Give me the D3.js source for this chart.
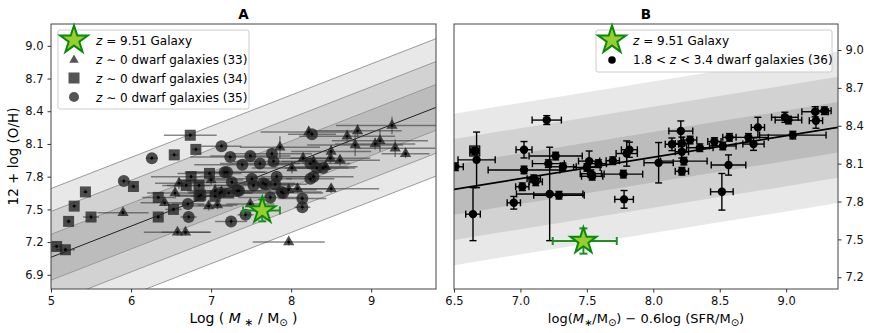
<!DOCTYPE html>
<html>
<head>
<meta charset="utf-8">
<script src="https://cdn.jsdelivr.net/npm/d3@7/dist/d3.min.js"></script>
<style>
  body { margin:0; background:#fff; }
  text { font-family: "DejaVu Sans", sans-serif; }
</style>
</head>
<body>
<div id="chart"></div>
<script>
// Mass-metallicity (A) and FMR (B) panels

// ---- panel A data: [logM, 12+log(O/H), xerr, yerr]
const triA = [
  [5.90,7.47,0.32,0.03],[6.58,7.29,0.42,0.03],[6.68,7.29,0.30,0.03],
  [6.42,7.56,0.30,0.03],[6.55,7.65,0.35,0.05],[6.60,7.74,0.30,0.05],
  [6.97,7.53,0.30,0.04],[7.08,7.54,0.25,0.04],[7.00,7.77,0.40,0.05],[7.05,7.67,0.35,0.06],[7.13,7.66,0.40,0.06],
  [7.49,7.55,0.30,0.03],[7.86,8.07,0.50,0.10],[7.97,7.68,0.35,0.04],[8.08,7.69,0.40,0.04],[8.01,7.88,0.50,0.05],
  [8.22,8.21,0.60,0.05],[8.70,8.17,0.60,0.06],[8.83,8.22,0.55,0.06],[9.26,8.27,0.70,0.08],[9.11,8.13,0.60,0.10],
  [9.05,8.10,0.50,0.05],[8.80,8.09,0.60,0.10],[9.30,8.06,0.50,0.08],[9.43,8.01,0.30,0.04],[8.50,8.03,0.50,0.06],
  [8.15,7.97,0.40,0.05],[8.49,7.97,0.50,0.05],[8.61,7.95,0.50,0.05],[8.28,7.94,0.40,0.05],[8.50,7.69,0.60,0.04],
  [7.97,7.20,0.45,0.03],[8.43,7.89,0.40,0.04]
];
const sqA = [
  [5.07,7.16,0.05,0.02],[5.18,7.13,0.12,0.02],[5.22,7.39,0.03,0.02],[5.29,7.53,0.03,0.02],[5.43,7.66,0.03,0.02],
  [5.50,7.43,0.10,0.02],[6.03,7.71,0.05,0.02],[6.34,7.43,0.05,0.02],[6.34,7.61,0.20,0.02],[6.53,7.50,0.10,0.02],
  [6.54,8.00,0.05,0.02],[6.74,8.18,0.33,0.02],[6.81,8.05,0.05,0.02],[6.69,7.72,0.30,0.02],[6.75,7.80,0.50,0.02],
  [6.85,7.72,0.40,0.02],[6.85,7.62,0.30,0.02],[6.98,7.83,0.40,0.02],[7.05,7.62,0.30,0.02],[7.22,7.65,0.30,0.02],
  [6.87,7.63,0.30,0.02]
];
const circA = [
  [5.91,7.76,0.05,0.02],[6.26,7.97,0.07,0.02],[6.71,7.55,0.20,0.02],[6.72,7.43,0.10,0.02],[7.13,8.08,0.25,0.02],
  [7.24,7.98,0.50,0.03],[7.49,7.99,0.50,0.03],[7.76,8.01,0.50,0.03],[7.39,7.91,0.60,0.03],[7.61,7.92,0.50,0.03],
  [7.78,7.94,0.50,0.03],[8.26,8.19,0.30,0.03],[7.17,7.84,0.50,0.03],[7.26,7.75,0.50,0.03],[7.51,7.78,0.50,0.03],
  [7.65,7.74,0.40,0.03],[7.35,7.67,0.40,0.03],[7.82,7.80,0.40,0.03],[7.80,7.73,0.40,0.03],[7.68,7.73,0.40,0.03],
  [7.53,7.72,0.50,0.03],[7.33,7.67,0.30,0.03],[7.11,7.65,0.40,0.03],[7.20,7.84,0.50,0.03],[7.25,7.39,0.20,0.03],
  [7.43,7.45,0.10,0.03],[7.90,7.65,0.50,0.03],[8.14,7.60,0.30,0.03],[8.14,7.52,0.10,0.03],[8.24,7.78,0.30,0.03],
  [8.28,7.80,0.50,0.03],[8.32,7.88,0.40,0.03],[8.40,7.88,0.40,0.03],[8.24,7.92,0.50,0.03],[7.74,7.61,0.40,0.03],
  [7.88,7.66,0.50,0.03]
];
// z=9.51 galaxy: [x, y, xerrLow, xerrHigh, yerr]
const starA = [7.64, 7.49, 0.24, 0.22, 0.10];
const fitA = {x0:5, y0:7.061, slope:0.2857};
const bandOffsetsA = [0.63, 0.42, 0.21];

// ---- panel B data: [x, 12+log(O/H), xerr, yerr]
const ptsB = [
  [6.51,8.075,0.06,0.03],[6.67,8.13,0.14,0.22],[6.656,8.20,0.03,0.03],[6.643,7.70,0.055,0.21],[6.95,7.79,0.05,0.05],
  [7.027,8.21,0.06,0.065],[7.027,8.05,0.27,0.03],[7.014,7.917,0.05,0.03],[7.10,7.98,0.05,0.03],
  [7.115,7.956,0.05,0.03],[7.198,8.445,0.11,0.035],[7.22,7.86,0.25,0.37],[7.29,7.85,0.19,0.03],
  [7.265,8.16,0.20,0.03],[7.21,8.10,0.12,0.03],[7.32,8.075,0.10,0.03],[7.517,8.12,0.08,0.08],
  [7.50,8.07,0.10,0.03],[7.53,8.02,0.08,0.03],[7.587,8.10,0.06,0.03],[7.695,8.123,0.05,0.03],
  [7.80,8.18,0.08,0.10],[7.82,8.21,0.06,0.06],[7.775,8.017,0.145,0.03],[7.78,7.817,0.07,0.07],
  [8.04,8.107,0.11,0.16],[8.207,8.358,0.09,0.08],[8.14,8.253,0.05,0.05],[8.215,8.26,0.05,0.05],
  [8.277,8.287,0.05,0.03],[8.35,8.226,0.10,0.03],[8.46,8.275,0.05,0.03],[8.215,8.194,0.05,0.05],
  [8.23,8.12,0.175,0.03],[8.215,8.04,0.05,0.03],[8.516,7.877,0.085,0.145],[8.566,8.089,0.13,0.08],
  [8.523,8.24,0.10,0.03],[8.573,8.308,0.05,0.03],[8.716,8.308,0.15,0.03],[8.754,8.255,0.08,0.05],
  [8.787,8.387,0.05,0.08],[8.99,8.467,0.10,0.04],[9.017,8.445,0.10,0.03],[9.05,8.326,0.25,0.03],
  [9.218,8.511,0.10,0.04],[9.288,8.519,0.05,0.03],[9.224,8.44,0.05,0.06],[7.54,8.0,0.08,0.03]
];
const openSqB = [[6.656,8.20]];
const starB = [7.474, 7.487, 0.231, 0.251, 0.10];
const fitB = {x0:6.5, y0:7.896, slope:0.17};
const bandOffsetsB = [0.6, 0.4, 0.2];

const ticksAx = [5,6,7,8,9];
const ticksAy = [6.9,7.2,7.5,7.8,8.1,8.4,8.7,9.0];
const ticksBx = [6.5,7.0,7.5,8.0,8.5,9.0];
const ticksBy = [7.2,7.5,7.8,8.1,8.4,8.7,9.0];
const bandFills = ['#e8e8e8','#d2d2d2','#bcbcbc'];

const W = 872, H = 333;
const svg = d3.select('#chart').append('svg').attr('width',W).attr('height',H);

function panel(id, box, xd, yd){
  const x = d3.scaleLinear().domain(xd).range([box.x0, box.x1]);
  const y = d3.scaleLinear().domain(yd).range([box.y1, box.y0]);
  svg.append('clipPath').attr('id','clip'+id).append('rect')
    .attr('x',box.x0).attr('y',box.y0).attr('width',box.x1-box.x0).attr('height',box.y1-box.y0);
  const g = svg.append('g').attr('clip-path',`url(#clip${id})`);
  return {x, y, g};
}

function bands(p, fit, offs, xd, edgeLines){
  const f = v => fit.y0 + fit.slope*(v - fit.x0);
  const xs = [xd[0]-1, xd[1]+1];
  offs.forEach((o,i)=>{
    const pts = [[xs[0],f(xs[0])+o],[xs[1],f(xs[1])+o],[xs[1],f(xs[1])-o],[xs[0],f(xs[0])-o]];
    p.g.append('path').attr('d', d3.line().x(d=>p.x(d[0])).y(d=>p.y(d[1]))(pts)+'Z')
      .attr('fill', bandFills[i]);
  });
  if (edgeLines){
    offs.forEach(o=>{
      [o,-o].forEach(s=>{
        p.g.append('line').attr('x1',p.x(xs[0])).attr('y1',p.y(f(xs[0])+s))
          .attr('x2',p.x(xs[1])).attr('y2',p.y(f(xs[1])+s))
          .attr('stroke','#9a9a9a').attr('stroke-width',1);
      });
    });
  }
  return f;
}

function errbar(g, x, y, d, color, w, cap){
  const [cx, cy] = [x(d[0]), y(d[1])];
  const xl = d[2], xh = d.length>4 ? d[3] : d[2];
  const ye = d.length>4 ? d[4] : d[3];
  const ln = (x1,y1,x2,y2)=>g.append('line').attr('x1',x1).attr('y1',y1).attr('x2',x2).attr('y2',y2)
    .attr('stroke',color).attr('stroke-width',w);
  ln(x(d[0]-xl), cy, x(d[0]+xh), cy);
  ln(cx, y(d[1]-ye), cx, y(d[1]+ye));
  if (cap){
    ln(x(d[0]-xl), cy-cap, x(d[0]-xl), cy+cap);
    ln(x(d[0]+xh), cy-cap, x(d[0]+xh), cy+cap);
    ln(cx-cap, y(d[1]-ye), cx+cap, y(d[1]-ye));
    ln(cx-cap, y(d[1]+ye), cx+cap, y(d[1]+ye));
  }
}

const starPath = d3.symbol().type(d3.symbolStar).size(210)();

function star(g, x, y, d){
  errbar(g, x, y, d, '#1f8f1f', 2, 4);
  g.append('path').attr('d', starPath).attr('transform',`translate(${x(d[0])},${y(d[1])})`)
    .attr('fill','#9acd32').attr('stroke','#0a8a0a').attr('stroke-width',2);
}

function frame(box){
  svg.append('rect').attr('x',box.x0).attr('y',box.y0).attr('width',box.x1-box.x0).attr('height',box.y1-box.y0)
    .attr('fill','none').attr('stroke','#444').attr('stroke-width',1);
}

function styleAxis(sel){
  sel.select('.domain').remove();
  sel.selectAll('.tick line').attr('stroke','#333');
  sel.selectAll('.tick text').attr('font-size',11.5).attr('fill','#111').attr('font-family','DejaVu Sans');
}

// ---------------- Panel A ----------------
const boxA = {x0:51, x1:436, y0:24, y1:289};
const xdA = [5, 9.81], ydA = [6.77, 9.2];
const pA = panel('A', boxA, xdA, ydA);
const fA = bands(pA, fitA, bandOffsetsA, xdA, true);
pA.g.append('line').attr('x1',pA.x(xdA[0])).attr('y1',pA.y(fA(xdA[0])))
  .attr('x2',pA.x(xdA[1])).attr('y2',pA.y(fA(xdA[1])))
  .attr('stroke','#222').attr('stroke-width',1);

const allA = [...triA, ...sqA, ...circA];
allA.forEach(d=>errbar(pA.g, pA.x, pA.y, d, 'rgba(60,60,60,0.6)', 1.5, 0));
const mk = {opacity:0.78, fill:'#222'};
pA.g.selectAll('.tri').data(triA).enter().append('path')
  .attr('d', d3.symbol().type(d3.symbolTriangle).size(55)())
  .attr('transform', d=>`translate(${pA.x(d[0])},${pA.y(d[1])})`)
  .attr('fill',mk.fill).attr('opacity',mk.opacity);
pA.g.selectAll('.sq').data(sqA).enter().append('rect')
  .attr('x', d=>pA.x(d[0])-5.5).attr('y', d=>pA.y(d[1])-5.5).attr('width',11).attr('height',11)
  .attr('fill',mk.fill).attr('opacity',mk.opacity);
pA.g.selectAll('.ci').data(circA).enter().append('circle')
  .attr('cx', d=>pA.x(d[0])).attr('cy', d=>pA.y(d[1])).attr('r',6)
  .attr('fill',mk.fill).attr('opacity',mk.opacity);
pA.g.selectAll('.dot').data(allA).enter().append('circle')
  .attr('cx', d=>pA.x(d[0])).attr('cy', d=>pA.y(d[1])).attr('r',1.4).attr('fill','#000');
star(pA.g, pA.x, pA.y, starA);
frame(boxA);

svg.append('g').attr('transform',`translate(0,${boxA.y1})`)
  .call(d3.axisBottom(pA.x).tickValues(ticksAx).tickFormat(d3.format('d')).tickSize(3.5).tickPadding(4)).call(styleAxis);
svg.append('g').attr('transform',`translate(${boxA.x0},0)`)
  .call(d3.axisLeft(pA.y).tickValues(ticksAy).tickFormat(d3.format('.1f')).tickSize(3.5).tickPadding(4)).call(styleAxis);

// ---------------- Panel B ----------------
const boxB = {x0:454, x1:838, y0:24, y1:289};
const xdB = [6.5, 9.39], ydB = [7.107, 9.206];
const pB = panel('B', boxB, xdB, ydB);
const fB = bands(pB, fitB, bandOffsetsB, xdB, false);
pB.g.append('line').attr('x1',pB.x(xdB[0])).attr('y1',pB.y(fB(xdB[0])))
  .attr('x2',pB.x(xdB[1])).attr('y2',pB.y(fB(xdB[1])))
  .attr('stroke','#000').attr('stroke-width',1.8);
ptsB.forEach(d=>errbar(pB.g, pB.x, pB.y, d, '#000', 1.4, 3.5));
pB.g.selectAll('.osq').data(openSqB).enter().append('rect')
  .attr('x', d=>pB.x(d[0])-5).attr('y', d=>pB.y(d[1])-5).attr('width',10).attr('height',10)
  .attr('fill','none').attr('stroke','#000').attr('stroke-width',1.2);
pB.g.selectAll('.pt').data(ptsB).enter().append('circle')
  .attr('cx', d=>pB.x(d[0])).attr('cy', d=>pB.y(d[1])).attr('r',4.2).attr('fill','#000');
star(pB.g, pB.x, pB.y, starB);
frame(boxB);

svg.append('g').attr('transform',`translate(0,${boxB.y1})`)
  .call(d3.axisBottom(pB.x).tickValues(ticksBx).tickFormat(d3.format('.1f')).tickSize(3.5).tickPadding(4)).call(styleAxis);
svg.append('g').attr('transform',`translate(${boxB.x1},0)`)
  .call(d3.axisRight(pB.y).tickValues(ticksBy).tickFormat(d3.format('.1f')).tickSize(3.5).tickPadding(4)).call(styleAxis);

// ---------------- titles & labels ----------------
svg.append('text').attr('x',(boxA.x0+boxA.x1)/2).attr('y',19).attr('text-anchor','middle')
  .attr('font-weight','bold').attr('font-size',13.5).text('A');
svg.append('text').attr('x',(boxB.x0+boxB.x1)/2).attr('y',19).attr('text-anchor','middle')
  .attr('font-weight','bold').attr('font-size',13.5).text('B');

svg.append('text').attr('transform',`translate(18,${(boxA.y0+boxA.y1)/2}) rotate(-90)`)
  .attr('text-anchor','middle').attr('font-size',13.5).text('12 + log (O/H)');

const xlA = svg.append('text').attr('x',(boxA.x0+boxA.x1)/2).attr('y',323).attr('text-anchor','middle').attr('font-size',14);
xlA.append('tspan').text('Log ( ');
xlA.append('tspan').attr('font-style','italic').text('M');
xlA.append('tspan').attr('dy',3).attr('font-size',11).text(' ∗');
xlA.append('tspan').attr('dy',-3).text('  / M');
xlA.append('tspan').attr('dy',3).attr('font-size',10).text('⊙');
xlA.append('tspan').attr('dy',-3).text('  )');

const xlB = svg.append('text').attr('x',(boxB.x0+boxB.x1)/2).attr('y',323).attr('text-anchor','middle').attr('font-size',13);
xlB.append('tspan').text('log(');
xlB.append('tspan').attr('font-style','italic').text('M');
xlB.append('tspan').attr('dy',3).attr('font-size',10).text('∗');
xlB.append('tspan').attr('dy',-3).text('/M');
xlB.append('tspan').attr('dy',3).attr('font-size',10).text('⊙');
xlB.append('tspan').attr('dy',-3).text(') − 0.6log (SFR/M');
xlB.append('tspan').attr('dy',3).attr('font-size',10).text('⊙');
xlB.append('tspan').attr('dy',-3).text(')');

// ---------------- legends ----------------
function legendBox(x, y, w, h){
  svg.append('rect').attr('x',x).attr('y',y).attr('width',w).attr('height',h).attr('rx',2)
    .attr('fill','#fff').attr('fill-opacity',0.85).attr('stroke','#ccc').attr('stroke-width',1);
}
function legText(x, y, parts){
  const t = svg.append('text').attr('x',x).attr('y',y+4.5).attr('font-size',12);
  parts.forEach(p=>t.append('tspan').attr('font-style',p[1]?'italic':'normal').text(p[0]));
}
function legStar(x, y){
  svg.append('path').attr('d', d3.symbol().type(d3.symbolStar).size(240)())
    .attr('transform',`translate(${x},${y})`).attr('fill','#9acd32').attr('stroke','#0a8a0a').attr('stroke-width',2);
}

legendBox(58, 30, 191, 79);
legStar(74, 40);
legText(96, 40, [['z',1],[' = 9.51 Galaxy',0]]);
svg.append('path').attr('d', d3.symbol().type(d3.symbolTriangle).size(38)())
  .attr('transform','translate(74,60)').attr('fill','#555');
legText(96, 59, [['z',1],[' ∼ 0 dwarf galaxies (33)',0]]);
svg.append('rect').attr('x',68.5).attr('y',72.5).attr('width',11).attr('height',11).attr('fill','#555');
legText(96, 78, [['z',1],[' ∼ 0 dwarf galaxies (34)',0]]);
svg.append('circle').attr('cx',74).attr('cy',97).attr('r',5).attr('fill','#555');
legText(96, 97, [['z',1],[' ∼ 0 dwarf galaxies (35)',0]]);

legendBox(596, 30, 236, 42);
legStar(612, 40);
legText(633, 40, [['z',1],[' = 9.51 Galaxy',0]]);
svg.append('circle').attr('cx',612).attr('cy',60).attr('r',3.8).attr('fill','#000');
legText(633, 59, [['1.8 < ',0],['z',1],[' < 3.4 dwarf galaxies (36)',0]]);
</script>
</body>
</html>
